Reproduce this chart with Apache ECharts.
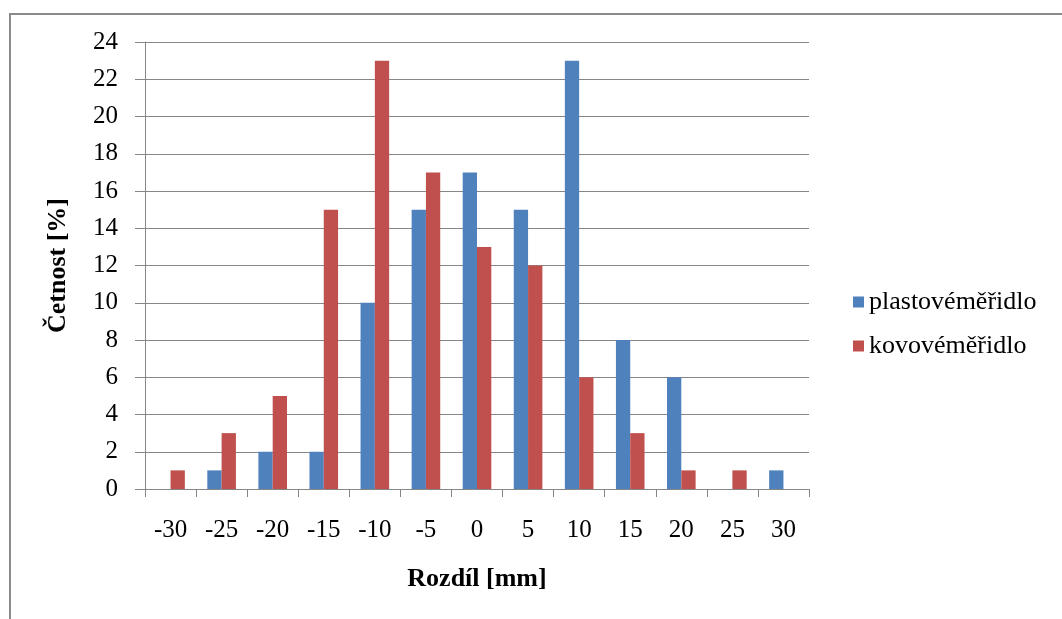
<!DOCTYPE html>
<html>
<head>
<meta charset="utf-8">
<script src="https://cdn.jsdelivr.net/npm/echarts@6/dist/echarts.min.js"></script>
<style>
html,body{margin:0;padding:0;background:#fff;}
#chart{width:1062px;height:619px;}
</style>
</head>
<body>
<div id="chart"></div>
<script>
const categories = ['-30','-25','-20','-15','-10','-5','0','5','10','15','20','25','30'];
const plastove = [0, 1, 2, 2, 10, 15, 17, 15, 23, 8, 6, 0, 1];
const kovove = [1, 3, 5, 15, 23, 17, 13, 12, 6, 3, 1, 1, 0];
const seriesNames = ['plastovéměřidlo', 'kovovéměřidlo'];
const yTicks = {min: 0, max: 24, interval: 2};

const font = 'Liberation Serif';
const chart = echarts.init(document.getElementById('chart'));
chart.setOption({
  animation: false,
  backgroundColor: '#fff',
  graphic: [{
    type: 'rect',
    shape: {x: 10, y: 14, width: 1200, height: 800},
    style: {fill: 'none', stroke: '#8a8a8a', lineWidth: 2},
    silent: true
  }],
  grid: {left: 145, right: 253, top: 42, bottom: 130, containLabel: false},
  legend: {
    orient: 'vertical',
    left: 848,
    top: 284,
    itemWidth: 11,
    itemHeight: 11,
    itemGap: 18,
    icon: 'rect',
    textStyle: {fontFamily: font, fontSize: 26, color: '#000'},
    data: seriesNames
  },
  xAxis: {
    type: 'category',
    data: categories,
    name: 'Rozdíl [mm]',
    nameLocation: 'middle',
    nameGap: 77,
    nameTextStyle: {fontFamily: font, fontSize: 26, fontWeight: 'bold', color: '#000'},
    axisLine: {lineStyle: {color: '#868686', width: 1}},
    axisTick: {show: true, length: 8, alignWithLabel: false, lineStyle: {color: '#868686'}},
    axisLabel: {fontFamily: font, fontSize: 25, color: '#000', margin: 29, interval: 0},
    splitLine: {show: false}
  },
  yAxis: {
    type: 'value',
    min: yTicks.min,
    max: yTicks.max,
    interval: yTicks.interval,
    name: 'Četnost [%]',
    nameLocation: 'middle',
    nameGap: 74,
    nameTextStyle: {fontFamily: font, fontSize: 26, fontWeight: 'bold', color: '#000'},
    axisLine: {show: true, lineStyle: {color: '#868686', width: 1}},
    axisTick: {show: true, length: 10, inside: false, lineStyle: {color: '#868686'}},
    axisLabel: {fontFamily: font, fontSize: 25, color: '#000', margin: 27},
    splitLine: {show: true, lineStyle: {color: '#868686', width: 1}}
  },
  series: [
    {name: seriesNames[0], type: 'bar', data: plastove, barWidth: '28%', barGap: '0%',
     itemStyle: {color: '#4F81BD'}},
    {name: seriesNames[1], type: 'bar', data: kovove, barWidth: '28%', barGap: '0%',
     itemStyle: {color: '#C0504D'}}
  ]
});
</script>
</body>
</html>
